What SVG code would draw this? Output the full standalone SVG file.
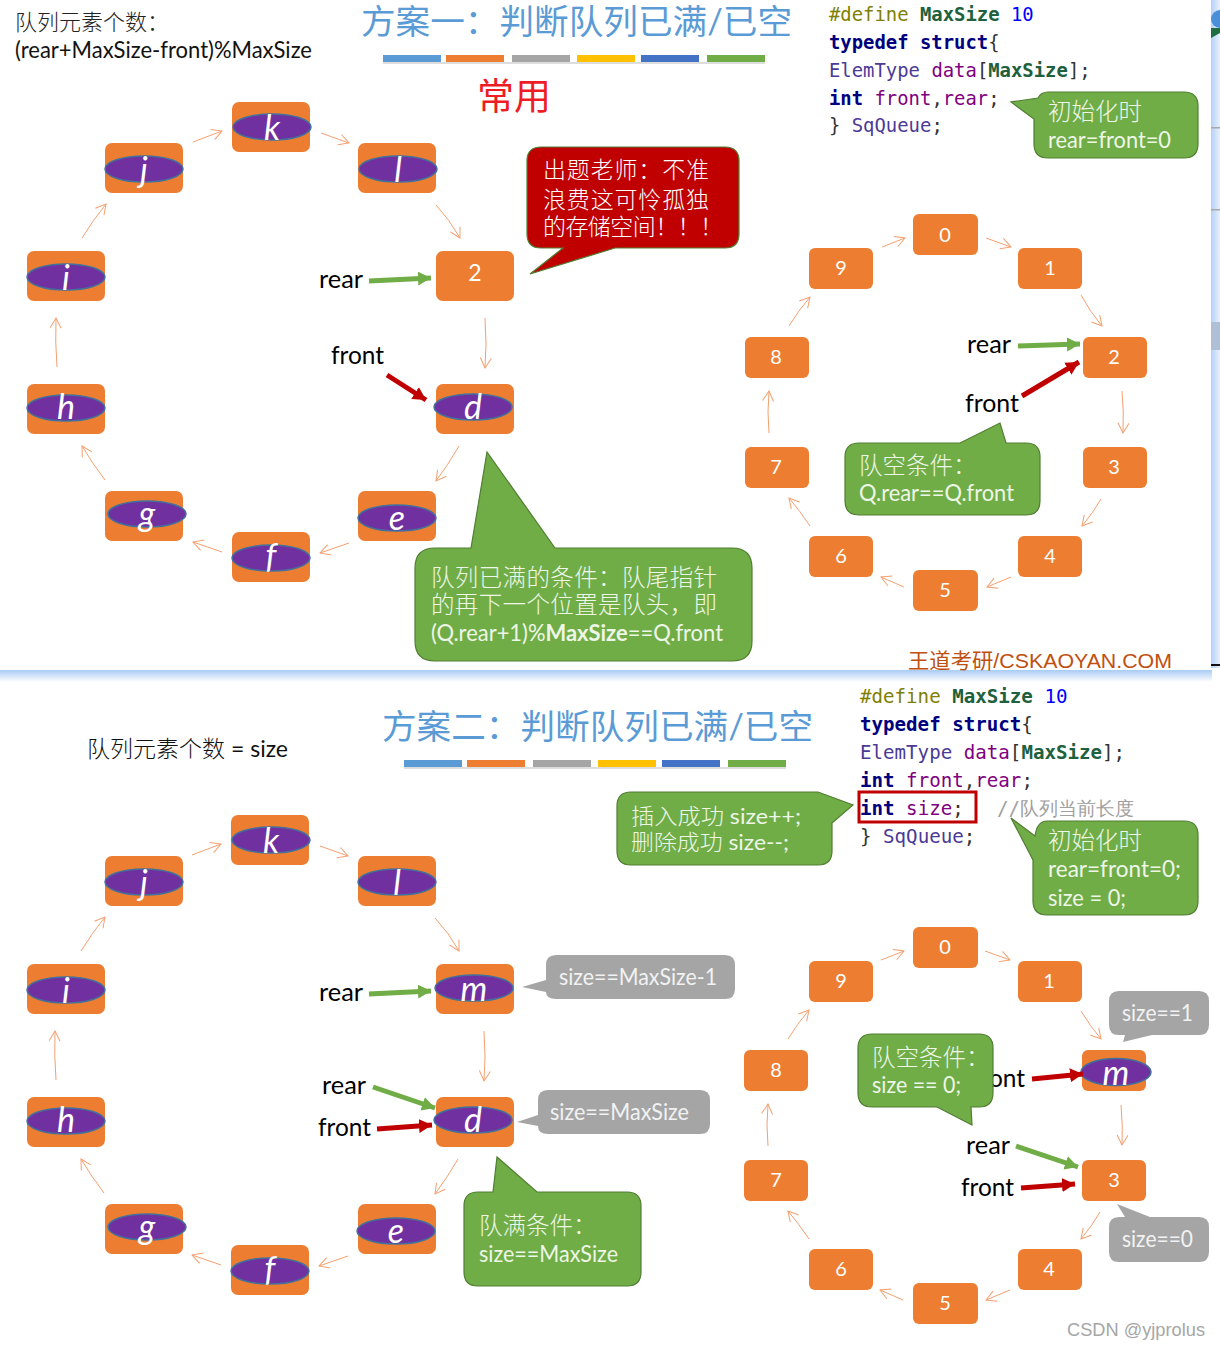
<svg xmlns="http://www.w3.org/2000/svg" width="1220" height="1349" viewBox="0 0 1220 1349">
<defs>
<marker id="oa" markerUnits="userSpaceOnUse" markerWidth="16" markerHeight="14" refX="11" refY="6" orient="auto"><path d="M1,0.5 L11,6 L1,11.5" fill="none" stroke="#f4a070" stroke-width="1"/></marker>
<marker id="ga" markerUnits="userSpaceOnUse" markerWidth="16" markerHeight="16" refX="13" refY="7" orient="auto"><path d="M0,0 L13,7 L0,14Z" fill="#70ad47"/></marker>
<marker id="ra" markerUnits="userSpaceOnUse" markerWidth="16" markerHeight="16" refX="13" refY="7" orient="auto"><path d="M0,0 L13,7 L0,14Z" fill="#c00000"/></marker>
<linearGradient id="edge" x1="0" y1="0" x2="0" y2="1"><stop offset="0" stop-color="#a9cbf3"/><stop offset="1" stop-color="#ffffff"/></linearGradient>
<linearGradient id="edgeR" x1="0" y1="0" x2="1" y2="0"><stop offset="0" stop-color="#b4d1f8"/><stop offset="1" stop-color="#e8f0fb"/></linearGradient>
</defs>
<style>
text{font-family:"Lato","Noto Sans CJK SC",sans-serif;white-space:pre}
.n{fill:#ed7d31}
.e{fill:#7030a0;stroke:#41719c;stroke-width:1.5}
.lt{fill:#fff;font-size:34px;font-style:italic;text-anchor:middle}
.dg{fill:#fff;font-size:20px;text-anchor:middle}
.bl{fill:#000;font-size:25px}
.cb{fill:#eef6e8;font-size:23.5px}
.cj{font-weight:300}
.cw{fill:#fff;font-size:23px;font-weight:300}
.gc{fill:#70ad47;stroke:#507e32;stroke-width:1.2}
.gy{fill:#a5a5a5;stroke:none}
.gt{fill:#f2f2f2;font-size:23px}
.ti{fill:#5b9bd5;font-size:34.5px}
.cn{stroke:#f4a070;stroke-width:1;fill:none;marker-end:url(#oa)}
.tg{stroke:#70ad47;stroke-width:5;fill:none;marker-end:url(#ga)}
.tr{stroke:#c00000;stroke-width:5;fill:none;marker-end:url(#ra)}
.cd{font-family:"DejaVu Sans Mono",monospace;font-size:18.9px}
.c2{font-size:19.15px}
.k{font-weight:bold;fill:#00007f}.m{font-weight:bold;fill:#20603d}.o{fill:#808000}.u{fill:#0000ff}.t{fill:#4b3a96}.v{fill:#800080}.p{fill:#333}
</style>
<rect width="1220" height="1349" fill="#fff"/>
<g id="panel-edge">
<rect x="1211" y="0" width="9" height="668" fill="url(#edgeR)"/>
<rect x="0" y="670" width="1212" height="12" fill="url(#edge)"/>
<rect x="1211" y="664" width="9" height="2" fill="#111"/>
<rect x="1211" y="127" width="9" height="1.5" fill="#a8a8a8"/>
<rect x="1211" y="209" width="9" height="1.5" fill="#a8a8a8"/>
<rect x="1211" y="322" width="9" height="28" fill="#aebfd6"/>
<circle cx="1220" cy="19" r="9" fill="#4a90d9"/>
<path d="M1211,28 L1220,28 L1220,33 L1211,38Z" fill="#1f6e43"/>
</g>
<g id="headers">
<text x="15" y="30" font-size="22" fill="#222" font-weight="300">队列元素个数：</text>
<text x="15" y="58" font-size="23" fill="#111" textLength="297" lengthAdjust="spacingAndGlyphs">(rear+MaxSize-front)%MaxSize</text>
<text x="361" y="34" class="ti" textLength="431" lengthAdjust="spacingAndGlyphs">方案一：判断队列已满/已空</text>
<text x="477" y="110" font-size="37" fill="#ee1c25">常用</text>
<text x="87" y="757" font-size="22.5" fill="#111" textLength="201" lengthAdjust="spacingAndGlyphs"><tspan class="cj">队列元素个数</tspan> = size</text>
<text x="382" y="739" class="ti" textLength="431" lengthAdjust="spacingAndGlyphs">方案二：判断队列已满/已空</text>
<text x="908" y="668" font-size="21" fill="#c0500f" style="font-family:'Liberation Sans','Noto Sans CJK SC',sans-serif" textLength="264" lengthAdjust="spacingAndGlyphs">王道考研/CSKAOYAN.COM</text>
<text x="1067" y="1336" font-size="19" fill="#a6a6a6" style="font-family:'Liberation Sans',sans-serif" textLength="138" lengthAdjust="spacingAndGlyphs">CSDN @yjprolus</text>
</g>
<g id="bars-1">
<rect x="383" y="62" width="382" height="2" fill="#ddd"/>
<rect x="383" y="55" width="58" height="7" fill="#5b9bd5"/><rect x="446" y="55" width="58" height="7" fill="#ed7d31"/><rect x="512" y="55" width="58" height="7" fill="#a5a5a5"/><rect x="577" y="55" width="58" height="7" fill="#ffc000"/><rect x="641" y="55" width="58" height="7" fill="#4472c4"/><rect x="707" y="55" width="58" height="7" fill="#70ad47"/>
</g>
<g id="bars-2">
<rect x="404" y="767" width="382" height="2" fill="#ddd"/>
<rect x="404" y="760" width="58" height="7" fill="#5b9bd5"/><rect x="467" y="760" width="58" height="7" fill="#ed7d31"/><rect x="533" y="760" width="58" height="7" fill="#a5a5a5"/><rect x="598" y="760" width="58" height="7" fill="#ffc000"/><rect x="662" y="760" width="58" height="7" fill="#4472c4"/><rect x="728" y="760" width="58" height="7" fill="#70ad47"/>
</g>
<g id="code-1">
<text class="cd" x="829" y="21"><tspan class="o">#define</tspan> <tspan class="m">MaxSize</tspan> <tspan class="u">10</tspan></text>
<text class="cd" x="829" y="49"><tspan class="k">typedef</tspan> <tspan class="k">struct</tspan><tspan class="p">{</tspan></text>
<text class="cd" x="829" y="77"><tspan class="t">ElemType</tspan> <tspan class="v">data</tspan><tspan class="p">[</tspan><tspan class="m">MaxSize</tspan><tspan class="p">];</tspan></text>
<text class="cd" x="829" y="105"><tspan class="k">int</tspan> <tspan class="v">front</tspan><tspan class="p">,</tspan><tspan class="v">rear</tspan><tspan class="p">;</tspan></text>
<text class="cd" x="829" y="132"><tspan class="p">}</tspan> <tspan class="t">SqQueue</tspan><tspan class="p">;</tspan></text>
</g>
<g id="code-2">
<text class="cd c2" x="860" y="703"><tspan class="o">#define</tspan> <tspan class="m">MaxSize</tspan> <tspan class="u">10</tspan></text>
<text class="cd c2" x="860" y="731"><tspan class="k">typedef</tspan> <tspan class="k">struct</tspan><tspan class="p">{</tspan></text>
<text class="cd c2" x="860" y="759"><tspan class="t">ElemType</tspan> <tspan class="v">data</tspan><tspan class="p">[</tspan><tspan class="m">MaxSize</tspan><tspan class="p">];</tspan></text>
<text class="cd c2" x="860" y="787"><tspan class="k">int</tspan> <tspan class="v">front</tspan><tspan class="p">,</tspan><tspan class="v">rear</tspan><tspan class="p">;</tspan></text>
<text class="cd c2" x="860" y="815"><tspan class="k">int</tspan> <tspan class="v">size</tspan><tspan class="p">;</tspan></text>
<text class="cd c2" x="997" y="815" fill="#a0a0a0">//队列当前长度</text>
<text class="cd c2" x="860" y="843"><tspan class="p">}</tspan> <tspan class="t">SqQueue</tspan><tspan class="p">;</tspan></text>
<rect x="859" y="792" width="117" height="30" fill="none" stroke="#c00000" stroke-width="3"/>
</g>
<g id="connectors">
<path class="cn" d="M193,142L222,131"/><path class="cn" d="M321,133L349,143"/><path class="cn" d="M436,205Q450,220 460,238"/><path class="cn" d="M485,318Q487,345 485,368"/><path class="cn" d="M459,446Q448,465 436,481"/><path class="cn" d="M349,543L320,553"/><path class="cn" d="M222,552L193,542"/><path class="cn" d="M105,480Q92,463 82,446"/><path class="cn" d="M57,367Q55,342 56,318"/><path class="cn" d="M82,238Q93,220 106,204"/>
<path class="cn" d="M192,855L221,844"/><path class="cn" d="M320,846L348,856"/><path class="cn" d="M435,918Q449,933 459,951"/><path class="cn" d="M484,1031Q486,1058 484,1081"/><path class="cn" d="M458,1159Q447,1178 435,1194"/><path class="cn" d="M348,1256L319,1266"/><path class="cn" d="M221,1265L192,1255"/><path class="cn" d="M104,1193Q91,1176 81,1159"/><path class="cn" d="M56,1080Q54,1055 55,1031"/><path class="cn" d="M81,951Q92,933 105,917"/>
<path class="cn" d="M882,247L905,238"/><path class="cn" d="M986,238L1011,247"/><path class="cn" d="M1081,295Q1090,312 1102,326"/><path class="cn" d="M1122,391Q1124,412 1123,433"/><path class="cn" d="M1101,499Q1093,513 1082,526"/><path class="cn" d="M1011,577L987,587"/><path class="cn" d="M904,587L881,577"/><path class="cn" d="M810,526Q800,511 789,498"/><path class="cn" d="M769,433Q767,412 769,391"/><path class="cn" d="M789,326Q798,311 810,297"/>
<path class="cn" d="M881,960L904,951"/><path class="cn" d="M985,951L1010,960"/><path class="cn" d="M1081,1011Q1090,1026 1101,1039"/><path class="cn" d="M1121,1105Q1123,1126 1122,1145"/><path class="cn" d="M1100,1212Q1092,1226 1081,1239"/><path class="cn" d="M1010,1290L986,1300"/><path class="cn" d="M903,1300L880,1290"/><path class="cn" d="M809,1239Q799,1224 788,1211"/><path class="cn" d="M768,1146Q766,1125 768,1104"/><path class="cn" d="M788,1039Q797,1024 809,1010"/>
</g>
<g id="node-tl-k"><rect class="n" x="232" y="102" width="78" height="50" rx="7"/><ellipse class="e" cx="272" cy="127" rx="39" ry="13"/><text class="lt" x="272" y="140">k</text></g>
<g id="node-tl-j"><rect class="n" x="105" y="143" width="78" height="50" rx="7"/><ellipse class="e" cx="144" cy="169" rx="39" ry="13"/><text class="lt" x="144" y="182">j</text></g>
<g id="node-tl-l"><rect class="n" x="358" y="143" width="78" height="50" rx="7"/><ellipse class="e" cx="398" cy="169" rx="39" ry="13"/><text class="lt" x="398" y="182">l</text></g>
<g id="node-tl-i"><rect class="n" x="27" y="251" width="78" height="50" rx="7"/><ellipse class="e" cx="66" cy="277" rx="39" ry="13"/><text class="lt" x="66" y="290">i</text></g>
<g id="node-tl-2"><rect class="n" x="436" y="251" width="78" height="50" rx="7"/><text class="dg" x="475" y="281" style="font-size:23px">2</text></g>
<g id="node-tl-h"><rect class="n" x="27" y="384" width="78" height="50" rx="7"/><ellipse class="e" cx="66" cy="408" rx="39" ry="13"/><text class="lt" x="66" y="419">h</text></g>
<g id="node-tl-d"><rect class="n" x="436" y="384" width="78" height="50" rx="7"/><ellipse class="e" cx="473" cy="407" rx="39" ry="13"/><text class="lt" x="473" y="419">d</text></g>
<g id="node-tl-g"><rect class="n" x="105" y="491" width="78" height="50" rx="7"/><ellipse class="e" cx="147" cy="514" rx="39" ry="13"/><text class="lt" x="147" y="526">g</text></g>
<g id="node-tl-e"><rect class="n" x="358" y="491" width="78" height="50" rx="7"/><ellipse class="e" cx="397" cy="518" rx="39" ry="13"/><text class="lt" x="397" y="530">e</text></g>
<g id="node-tl-f"><rect class="n" x="232" y="532" width="78" height="50" rx="7"/><ellipse class="e" cx="271" cy="558" rx="39" ry="13"/><text class="lt" x="271" y="568">f</text></g>
<g id="node-bl-k"><rect class="n" x="231" y="815" width="78" height="50" rx="7"/><ellipse class="e" cx="271" cy="840" rx="39" ry="13"/><text class="lt" x="271" y="853">k</text></g>
<g id="node-bl-j"><rect class="n" x="105" y="856" width="78" height="50" rx="7"/><ellipse class="e" cx="144" cy="882" rx="39" ry="13"/><text class="lt" x="144" y="895">j</text></g>
<g id="node-bl-l"><rect class="n" x="358" y="856" width="78" height="50" rx="7"/><ellipse class="e" cx="397" cy="882" rx="39" ry="13"/><text class="lt" x="397" y="895">l</text></g>
<g id="node-bl-i"><rect class="n" x="27" y="964" width="78" height="50" rx="7"/><ellipse class="e" cx="66" cy="990" rx="39" ry="13"/><text class="lt" x="66" y="1003">i</text></g>
<g id="node-bl-m"><rect class="n" x="436" y="964" width="78" height="50" rx="7"/><ellipse class="e" cx="474" cy="988" rx="39" ry="13"/><text class="lt" x="474" y="1001">m</text></g>
<g id="node-bl-h"><rect class="n" x="27" y="1097" width="78" height="50" rx="7"/><ellipse class="e" cx="66" cy="1121" rx="39" ry="13"/><text class="lt" x="66" y="1132">h</text></g>
<g id="node-bl-d"><rect class="n" x="436" y="1097" width="78" height="50" rx="7"/><ellipse class="e" cx="473" cy="1120" rx="39" ry="13"/><text class="lt" x="473" y="1132">d</text></g>
<g id="node-bl-g"><rect class="n" x="105" y="1204" width="78" height="50" rx="7"/><ellipse class="e" cx="147" cy="1227" rx="39" ry="13"/><text class="lt" x="147" y="1239">g</text></g>
<g id="node-bl-e"><rect class="n" x="358" y="1204" width="78" height="50" rx="7"/><ellipse class="e" cx="396" cy="1231" rx="39" ry="13"/><text class="lt" x="396" y="1243">e</text></g>
<g id="node-bl-f"><rect class="n" x="231" y="1245" width="78" height="50" rx="7"/><ellipse class="e" cx="270" cy="1271" rx="39" ry="13"/><text class="lt" x="270" y="1281">f</text></g>
<g id="node-tr-0"><rect class="n" x="913" y="214" width="65" height="41" rx="6"/><text class="dg" x="945" y="242">0</text></g>
<g id="node-tr-1"><rect class="n" x="1018" y="248" width="64" height="41" rx="6"/><text class="dg" x="1050" y="275">1</text></g>
<g id="node-tr-9"><rect class="n" x="809" y="248" width="64" height="41" rx="6"/><text class="dg" x="841" y="275">9</text></g>
<g id="node-tr-8"><rect class="n" x="745" y="337" width="64" height="41" rx="6"/><text class="dg" x="776" y="364">8</text></g>
<g id="node-tr-2"><rect class="n" x="1083" y="337" width="64" height="41" rx="6"/><text class="dg" x="1114" y="364">2</text></g>
<g id="node-tr-7"><rect class="n" x="745" y="447" width="64" height="41" rx="6"/><text class="dg" x="776" y="474">7</text></g>
<g id="node-tr-3"><rect class="n" x="1083" y="447" width="64" height="41" rx="6"/><text class="dg" x="1114" y="474">3</text></g>
<g id="node-tr-6"><rect class="n" x="809" y="536" width="64" height="41" rx="6"/><text class="dg" x="841" y="563">6</text></g>
<g id="node-tr-4"><rect class="n" x="1018" y="536" width="64" height="41" rx="6"/><text class="dg" x="1050" y="563">4</text></g>
<g id="node-tr-5"><rect class="n" x="913" y="570" width="65" height="41" rx="6"/><text class="dg" x="945" y="597">5</text></g>
<g id="node-br-0"><rect class="n" x="913" y="927" width="65" height="41" rx="6"/><text class="dg" x="945" y="954">0</text></g>
<g id="node-br-1"><rect class="n" x="1018" y="961" width="64" height="41" rx="6"/><text class="dg" x="1049" y="988">1</text></g>
<g id="node-br-9"><rect class="n" x="809" y="961" width="64" height="41" rx="6"/><text class="dg" x="841" y="988">9</text></g>
<g id="node-br-8"><rect class="n" x="744" y="1050" width="64" height="41" rx="6"/><text class="dg" x="776" y="1077">8</text></g>
<g id="node-br-m"><rect class="n" x="1082" y="1050" width="64" height="41" rx="6"/><ellipse class="e" cx="1116" cy="1072" rx="35" ry="13.5"/><text class="lt" x="1116" y="1085">m</text></g>
<g id="node-br-7"><rect class="n" x="744" y="1160" width="64" height="41" rx="6"/><text class="dg" x="776" y="1187">7</text></g>
<g id="node-br-3"><rect class="n" x="1082" y="1160" width="64" height="41" rx="6"/><text class="dg" x="1114" y="1187">3</text></g>
<g id="node-br-6"><rect class="n" x="809" y="1249" width="64" height="41" rx="6"/><text class="dg" x="841" y="1276">6</text></g>
<g id="node-br-4"><rect class="n" x="1018" y="1249" width="64" height="41" rx="6"/><text class="dg" x="1049" y="1276">4</text></g>
<g id="node-br-5"><rect class="n" x="913" y="1283" width="65" height="41" rx="6"/><text class="dg" x="945" y="1310">5</text></g>
<g id="pointers">
<text class="bl" x="319" y="288" textLength="44" lengthAdjust="spacingAndGlyphs">rear</text><path class="tg" d="M369,281L431,278"/>
<text class="bl" x="331" y="364" textLength="53" lengthAdjust="spacingAndGlyphs">front</text><path class="tr" d="M387,375L426,400"/>
<text class="bl" x="967" y="353" textLength="44" lengthAdjust="spacingAndGlyphs">rear</text><path class="tg" d="M1018,346L1080,344"/>
<text class="bl" x="965" y="412" textLength="54" lengthAdjust="spacingAndGlyphs">front</text><path class="tr" d="M1022,396L1079,362"/>
<text class="bl" x="319" y="1001" textLength="44" lengthAdjust="spacingAndGlyphs">rear</text><path class="tg" d="M369,994L431,991"/>
<text class="bl" x="322" y="1094" textLength="44" lengthAdjust="spacingAndGlyphs">rear</text><path class="tg" d="M373,1087L435,1108"/>
<text class="bl" x="318" y="1136" textLength="53" lengthAdjust="spacingAndGlyphs">front</text><path class="tr" d="M377,1129L432,1125"/>
<text class="bl" x="972" y="1087" textLength="53" lengthAdjust="spacingAndGlyphs">front</text><path class="tr" d="M1032,1079L1083,1074"/>
<text class="bl" x="966" y="1154" textLength="44" lengthAdjust="spacingAndGlyphs">rear</text><path class="tg" d="M1016,1146L1078,1167"/>
<text class="bl" x="961" y="1196" textLength="53" lengthAdjust="spacingAndGlyphs">front</text><path class="tr" d="M1021,1188L1075,1184"/>
</g>
<g id="callout-exam"><path d="M541,147H725Q739,147 739,161V234Q739,248 725,248H615L530,274L563,248H541Q527,248 527,234V161Q527,147 541,147Z" fill="#c00000" stroke="#507e32" stroke-width="1.2"/>
<text class="cw" x="543" y="178" textLength="166">出题老师：不准</text><text class="cw" x="543" y="208" textLength="166">浪费这可怜孤独</text><text class="cw" x="543" y="235" textLength="180">的存储空间！！！</text></g>
<g id="callout-full"><path class="gc" d="M435,548H471L487,452L555,548H732Q752,548 752,568V641Q752,661 732,661H435Q415,661 415,641V568Q415,548 435,548Z"/>
<text class="cb cj" x="431" y="586" textLength="286">队列已满的条件：队尾指针</text><text class="cb cj" x="431" y="613" textLength="286">的再下一个位置是队头，即</text><text class="cb" x="431" y="641" style="font-size:23px" textLength="292" lengthAdjust="spacingAndGlyphs">(Q.rear+1)%<tspan font-weight="bold">MaxSize</tspan>==Q.front</text></g>
<g id="callout-init1"><path class="gc" d="M1048,92H1184Q1198,92 1198,106V144Q1198,158 1184,158H1048Q1034,158 1034,144V119L1011,102L1038,98Q1041,92 1048,92Z"/>
<text class="cb cj" x="1048" y="120">初始化时</text><text class="cb" x="1048" y="148" textLength="123" lengthAdjust="spacingAndGlyphs">rear=front=0</text></g>
<g id="callout-empty1"><path class="gc" d="M859,443H960L1000,423L1006,443H1026Q1040,443 1040,457V501Q1040,515 1026,515H859Q845,515 845,501V457Q845,443 859,443Z"/>
<text class="cb cj" x="859" y="474">队空条件：</text><text class="cb" x="859" y="501" textLength="155" lengthAdjust="spacingAndGlyphs">Q.rear==Q.front</text></g>
<g id="callout-size-ops"><path class="gc" d="M631,792H818L853,805L832,823V851Q832,865 818,865H631Q617,865 617,851V806Q617,792 631,792Z"/>
<text class="cb" x="631" y="824" style="font-size:22px" textLength="170" lengthAdjust="spacingAndGlyphs"><tspan class="cj">插入成功</tspan> size++;</text><text class="cb" x="631" y="850" style="font-size:22px" textLength="158" lengthAdjust="spacingAndGlyphs"><tspan class="cj">删除成功</tspan> size--;</text></g>
<g id="callout-init2"><path class="gc" d="M1047,821H1184Q1198,821 1198,835V901Q1198,915 1184,915H1047Q1033,915 1033,901V860L1011,818L1035,836Q1037,821 1047,821Z"/>
<text class="cb cj" x="1048" y="849">初始化时</text><text class="cb" x="1048" y="877" textLength="133" lengthAdjust="spacingAndGlyphs">rear=front=0;</text><text class="cb" x="1048" y="906" textLength="78" lengthAdjust="spacingAndGlyphs">size = 0;</text></g>
<g id="callout-full2"><path class="gc" d="M478,1192H493L497,1157L537,1192H627Q641,1192 641,1206V1272Q641,1286 627,1286H478Q464,1286 464,1272V1206Q464,1192 478,1192Z"/>
<text class="cb cj" x="479" y="1234">队满条件：</text><text class="cb" x="479" y="1262" textLength="139" lengthAdjust="spacingAndGlyphs">size==MaxSize</text></g>
<g id="callout-empty2"><path class="gc" d="M872,1034H979Q993,1034 993,1048V1093Q993,1107 979,1107H971L972,1125L937,1107H872Q858,1107 858,1093V1048Q858,1034 872,1034Z"/>
<text class="cb cj" x="872" y="1066">队空条件：</text><text class="cb" x="872" y="1093" textLength="89" lengthAdjust="spacingAndGlyphs">size == 0;</text></g>
<g id="tag-maxsize-1"><path class="gy" d="M556,955H725Q735,955 735,965V989Q735,999 725,999H556Q546,999 546,992L522,987L546,980V965Q546,955 556,955Z"/><text class="gt" x="559" y="985" textLength="158" lengthAdjust="spacingAndGlyphs">size==MaxSize-1</text></g>
<g id="tag-maxsize"><path class="gy" d="M548,1090H700Q710,1090 710,1100V1124Q710,1134 700,1134H548Q538,1134 538,1126L517,1122L538,1115V1100Q538,1090 548,1090Z"/><text class="gt" x="550" y="1120" textLength="139" lengthAdjust="spacingAndGlyphs">size==MaxSize</text></g>
<g id="tag-size1"><path class="gy" d="M1119,991H1199Q1209,991 1209,1001V1025Q1209,1035 1199,1035H1152L1123,1042L1125,1035H1119Q1109,1035 1109,1025V1001Q1109,991 1119,991Z"/><text class="gt" x="1122" y="1021" textLength="71" lengthAdjust="spacingAndGlyphs">size==1</text></g>
<g id="tag-size0"><path class="gy" d="M1119,1217H1125L1117,1204L1150,1217H1199Q1209,1217 1209,1227V1252Q1209,1262 1199,1262H1119Q1109,1262 1109,1252V1227Q1109,1217 1119,1217Z"/><text class="gt" x="1122" y="1247" textLength="71" lengthAdjust="spacingAndGlyphs">size==0</text></g>
</svg>
